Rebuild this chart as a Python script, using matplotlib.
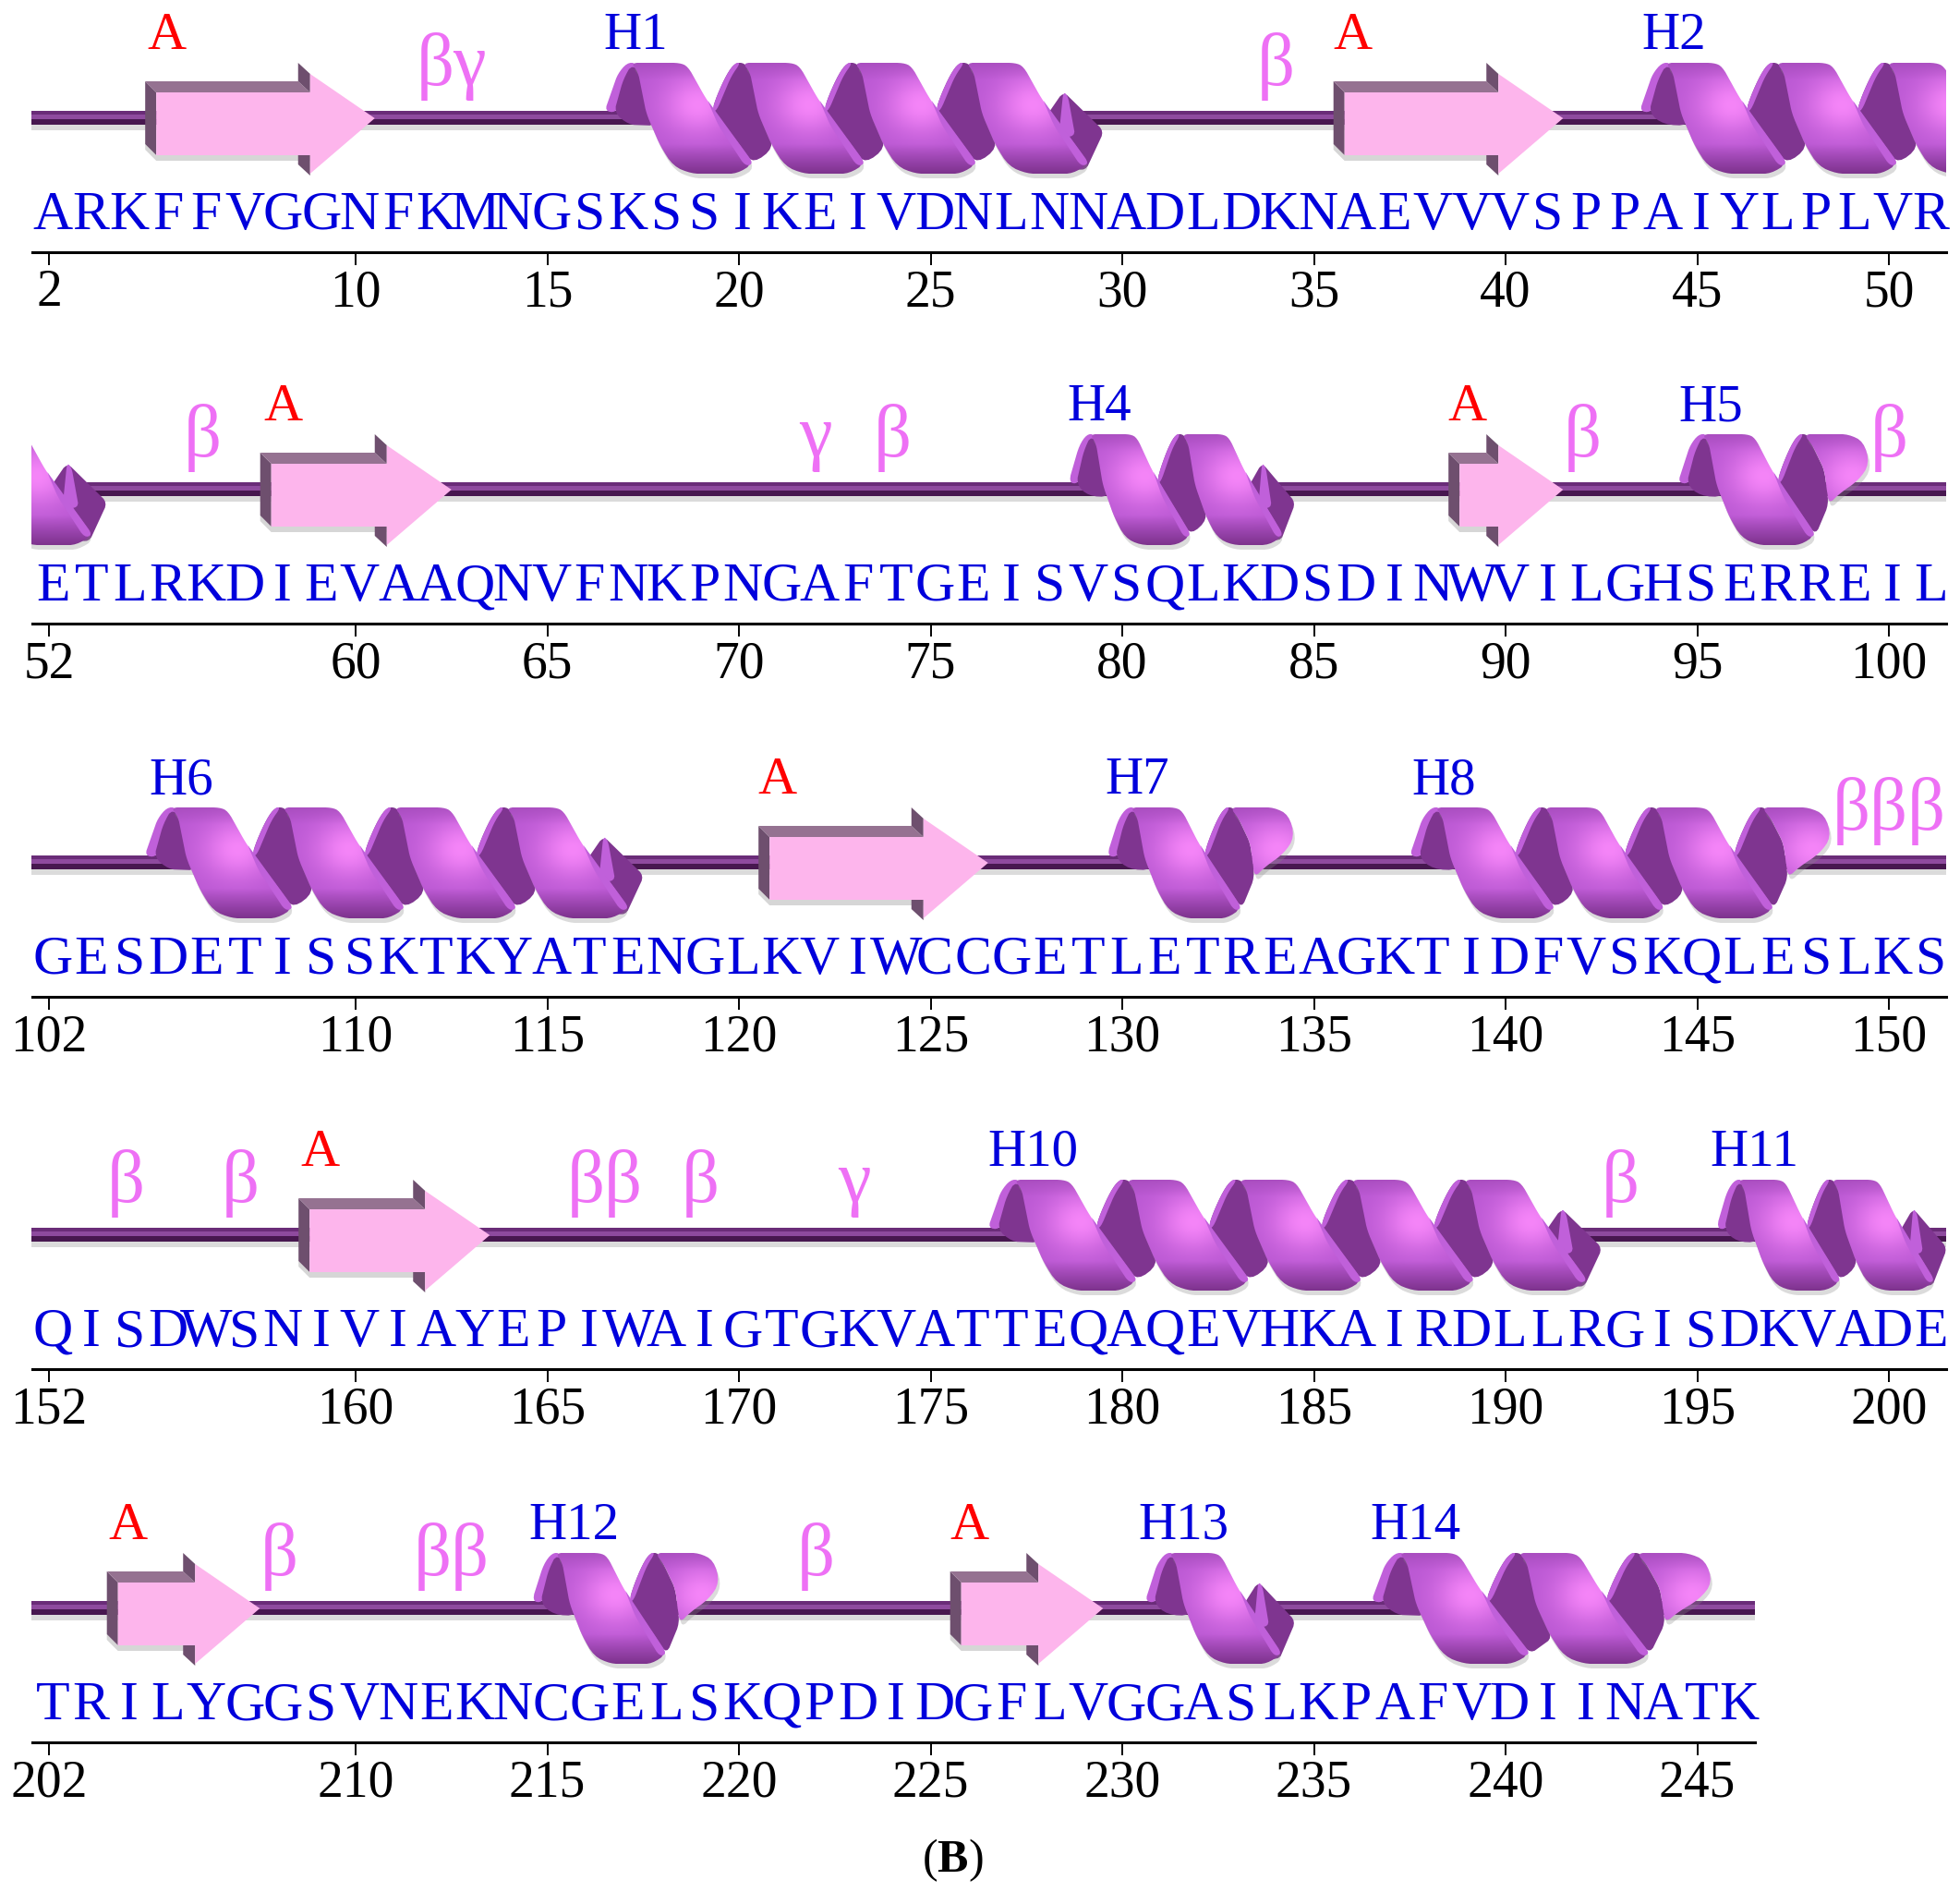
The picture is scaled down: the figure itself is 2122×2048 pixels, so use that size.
import numpy as np
import matplotlib
matplotlib.use("Agg")
import matplotlib.pyplot as plt
from matplotlib.patches import Polygon, Rectangle
from matplotlib.colors import to_rgb

plt.rcParams['font.family'] = ['Liberation Serif', 'DejaVu Serif']
plt.rcParams['mathtext.fontset'] = 'custom'
plt.rcParams['mathtext.rm'] = 'Liberation Serif'
plt.rcParams['mathtext.bf'] = 'Liberation Serif:bold'

# sequence, one string per row
row_starts = [2, 52, 102, 152, 202]
row_seqs = [
    "ARKFFVGGNFKMNGSKSSIKEIVDNLNNADLDKNAEVVVSPPAIYLPLVR",
    "ETLRKDIEVAAQNVFNKPNGAFTGEISVSQLKDSDINWVILGHSERREIL",
    "GESDETISSKTKYATENGLKVIWCCGETLETREAGKTIDFVSKQLESLKS",
    "QISDWSNIVIAYEPIWAIGTGKVATTEQAQEVHKAIRDLLRGISDKVADE",
    "TRILYGGSVNEKNCGELSKQPDIDGFLVGGASLKPAFVDIINATK",
]
row_ticks = [
    [2, 10, 15, 20, 25, 30, 35, 40, 45, 50],
    [52, 60, 65, 70, 75, 80, 85, 90, 95, 100],
    [102, 110, 115, 120, 125, 130, 135, 140, 145, 150],
    [152, 160, 165, 170, 175, 180, 185, 190, 195, 200],
    [202, 210, 215, 220, 225, 230, 235, 240, 245],
]
row_ends = [51.5, 101.5, 151.5, 201.5, 246.5]

# strands: first residue of the face, residue of the tip
arrow_start = [4.8, 35.8, 57.8, 88.8, 120.8, 158.8, 203.8, 225.8]
arrow_tip = [10.5, 41.5, 62.5, 91.5, 126.5, 163.5, 207.5, 229.5]

# helices
helix_start = [16.5, 43.5, 78.6, 94.5, 104.5, 129.6, 137.5, 176.5, 195.5, 214.6, 230.6, 236.5]
helix_end = [29.5, 53.5, 84.5, 99.5, 117.5, 134.5, 148.5, 192.5, 201.5, 219.5, 234.5, 245.4]
helix_turns = [4, 3, 2, 1, 4, 1, 3, 5, 2, 1, 1, 2]
helix_tail = ['fin', 'fin', 'fin', 'cap', 'fin', 'cap', 'cap', 'fin', 'fin', 'cap', 'fin', 'cap']

# labels above the rail
red_pos = [5.06, 36.0, 58.1, 89.0, 121.0, 159.06, 204.07, 226.0]
helix_names = ["H1", "H2", "H4", "H5", "H6", "H7", "H8", "H10", "H11", "H12", "H13", "H14"]
helix_name_pos = [17.3, 44.4, 79.4, 95.35, 105.45, 130.4, 138.4, 177.66, 196.5, 215.7, 231.6, 237.66]
turn_names = ["βγ", "β", "β", "γ", "β", "β", "β", "βββ", "β", "β", "ββ", "β", "γ", "β", "β", "ββ", "β"]
turn_pos = [12.5, 34.0, 56.0, 72.0, 74.0, 92.0, 100.0, 150.0, 154.0, 157.0, 166.5, 169.0, 173.0,
            193.0, 208.0, 212.5, 222.0]

W, H = 2122, 2048
PX = 41.5  # pixels per residue
X0 = 53
rail_y = [128, 530, 934, 1337, 1741]
T = 121.0

RIB = np.array(to_rgb('#BA58D3'))
RIB_HI = np.array(to_rgb('#F585F8'))
RIB_DK = np.array(to_rgb('#7E338E'))
INNER = '#7F3590'
EDGE = '#C060DA'


def smooth(pts, n=2, seg=14.0):
    # split long edges first so the corner cutting only rounds the corners a little
    pts = np.asarray(pts, float)
    dense = []
    for a, b in zip(pts, np.roll(pts, -1, axis=0)):
        m = max(int(np.hypot(*(b - a)) / seg), 1)
        dense += [a + (b - a) * j / m for j in range(m)]
    pts = np.array(dense)
    for _ in range(n):
        nxt = np.roll(pts, -1, axis=0)
        pts = np.column_stack([0.75 * pts + 0.25 * nxt, 0.25 * pts + 0.75 * nxt]).reshape(-1, 2)
    return pts


def ribbon_outline(o, s):
    p = [(0, -60), (8, -50), (17, -5), (32, 30), (46, 52), (66, 60), (115, 60), (133, 49),
         (119, 30), (100, 5), (81, -22), (62, -56), (53, -60)]
    return [(o + u * s, v) for u, v in p]


def cap_outline(o, s):
    p = [(-2, -60), (50, -60), (68, -52), (75, -28), (62, -10), (40, 4), (27, 16), (22, -21), (8, -48)]
    return [(o + u * s, v) for u, v in p]


def draw_rail(ax, left, right):
    ax.fill_between([left, right], 7, 13, color='#999999', alpha=0.35, lw=0, zorder=1)
    ax.fill_between([left, right], -8, -4, color='#6A2C78', lw=0, zorder=1.1)
    ax.fill_between([left, right], -4, 1, color='#8E4A9E', lw=0, zorder=1.1)
    ax.fill_between([left, right], 1, 7, color='#47174F', lw=0, zorder=1.1)


def draw_arrow(ax, start, tip):
    bev = 12 / PX
    base = tip - 70 / PX
    back = base - 13 / PX
    ax.add_patch(Polygon([(start - bev, 28), (start, 40), (base, 40), (base, 46), (start, 46), (start - bev, 34)],
                         fc='#999999', ec='none', alpha=0.4, zorder=2))
    ax.add_patch(Polygon([(start - bev, -40), (start, -28), (start, 40), (start - bev, 28)],
                         fc='#6E4F6E', ec='none', zorder=2.1))
    ax.add_patch(Polygon([(start - bev, -40), (back, -40), (base, -28), (start, -28)],
                         fc='#957291', ec='none', zorder=2.1))
    ax.add_patch(Polygon([(back, -60), (base, -48), (base, -28), (back, -40)],
                         fc='#6E4F6E', ec='none', zorder=2.1))
    ax.add_patch(Polygon([(back, 40), (base, 40), (base, 62), (back, 50)],
                         fc='#6E4F6E', ec='none', zorder=2.1))
    ax.add_patch(Polygon([(start, -28), (base, -28), (base, -48), (tip, 0), (base, 60), (base, 40), (start, 40)],
                         fc='#FDB5EC', ec='none', zorder=2.2))


def draw_ribbon(ax, pts, to_r, hx, span, z):
    arr = np.array(pts)
    umin, umax = arr[:, 0].min(), arr[:, 0].max()
    lo = max(to_r(umin), span[0])
    hi = min(to_r(umax), span[1])
    if hi <= lo:
        return
    xy = [(to_r(u), v) for u, v in smooth(pts)]
    sh = Polygon([(x + 2 / PX, y + 5) for x, y in xy], fc='#888888', ec='none', alpha=0.3, zorder=z - 0.05)
    ax.add_patch(sh)
    sh.set_clip_path(Rectangle((span[0], -200), span[1] - span[0], 400, transform=ax.transData))
    clip = Polygon(xy, fc='none', ec='none', zorder=z, transform=ax.transData)
    ax.add_patch(clip)
    xs = np.linspace(lo, hi, 60)
    vs = np.linspace(-62, 62, 90)
    R, V = np.meshgrid(xs, vs)
    U = (R - to_r(0)) * PX
    w = np.exp(-(((U - hx) / 38) ** 2 + ((V + 15) / 32) ** 2))[..., None]
    d = np.clip((V - 28) / 32, 0, 1)[..., None]
    top = np.clip((-V - 42) / 20, 0, 1)[..., None] * 0.3
    img = RIB + (RIB_HI - RIB) * w
    img = img + (RIB_DK - img) * d
    img = img + (RIB_DK - img) * top
    im = ax.imshow(img, extent=(lo, hi, 62, -62), origin='upper', aspect='auto',
                   interpolation='bilinear', zorder=z)
    im.set_clip_path(clip)


def draw_helix(ax, start, end, turns, tail, span):
    if end < span[0] or start > span[1]:
        return
    # the whole helix is built in pixels from its start, then squeezed to fit
    if tail == 'fin':
        s = (end - start) * PX / (28 + 133 + (turns - 1) * T + 15)
    else:
        s = (end - start) * PX / (28 + turns * T + 75)

    def to_r(u):
        return start + u / PX

    clip = Rectangle((span[0], -200), span[1] - span[0], 400, transform=ax.transData)

    def solid(pts, color, z):
        p = Polygon([(to_r(u), v) for u, v in smooth(pts)], fc=color, ec='none', zorder=z)
        ax.add_patch(p)
        p.set_clip_path(clip)

    t = T * s
    o0 = 28 * s
    # first flap, sits on top of the rail
    solid([(o0 - 28 * s, -8), (o0 - 14 * s, -48), (o0 - 4 * s, -60), (o0 + 6 * s, -60), (o0 - 16 * s, -6)], EDGE, 3.0)
    solid([(o0 - 18 * s, -6), (o0 - 8 * s, -42), (o0 + 2 * s, -60), (o0 + 20 * s, -40), (o0 + 26 * s, 8), (o0 - 2 * s, 7)],
          INNER, 3.01)

    for i in range(turns):
        o = o0 + i * t
        last = i == turns - 1
        if not last or tail == 'cap':
            nx = o + t
            if last:
                right = [(nx + 27 * s, 16), (nx + 22 * s, -21), (nx + 8 * s, -48), (nx + 2 * s, -60)]
            else:
                right = [(nx + 34 * s, 32), (nx + 18 * s, -5), (nx + 9 * s, -50), (nx + 2 * s, -60)]
            solid([(nx - 8 * s, -60), (nx - 17 * s, -48), (nx - 28 * s, -24), (nx - 33 * s, -8),
                   (o + 100 * s, 10), (o + 133 * s, 49)] + right,
                  INNER, 3.0)
            solid([(nx - 8 * s, -60), (nx - 17 * s, -48), (nx - 28 * s, -24), (nx - 33 * s, -8),
                   (nx - 28 * s, -8), (nx - 12 * s, -46), (nx - 2 * s, -60)],
                  EDGE, 3.05)
        else:
            solid([(o + 85 * s, 0), (o + 105 * s, -29), (o + 149 * s, 14), (o + 129 * s, 57), (o + 100 * s, 50)],
                  INNER, 3.0)
            solid([(o + 105 * s, -29), (o + 110 * s, -24), (o + 118 * s, 20), (o + 100 * s, 20)], EDGE, 3.05)

    for i in range(turns):
        o = o0 + i * t
        draw_ribbon(ax, ribbon_outline(o, s), to_r, o + 72 * s, span, 3.2 + i * 0.01)
        solid([(o + 83 * s, -20), (o + 85 * s, -17), (o + 133 * s, 49), (o + 124 * s, 52), (o + 95 * s, 8)],
              EDGE, 3.3 + i * 0.01)
    if tail == 'cap':
        o = o0 + turns * t
        draw_ribbon(ax, cap_outline(o, s), to_r, o + 55 * s, span, 3.2 + turns * 0.01)


fig = plt.figure(figsize=(W / 100, H / 100), dpi=100, facecolor='white')

for k, r0 in enumerate(row_starts):
    ax = fig.add_axes([0, 1 - (rail_y[k] + 275) / H, 1, 403 / H])
    ax.patch.set_visible(False)
    xlim = (r0 - X0 / PX, r0 + (W - X0) / PX)
    span = (r0 - 19 / PX, row_ends[k])

    draw_rail(ax, span[0], span[1])
    for a, b in zip(arrow_start, arrow_tip):
        if span[0] < a < span[1]:
            draw_arrow(ax, a, b)
    for a, b, n, tail in zip(helix_start, helix_end, helix_turns, helix_tail):
        draw_helix(ax, a, b, n, tail, span)

    for i, ch in enumerate(row_seqs[k]):
        ax.text(r0 + i + 0.1, 120, ch, color='#0000DC', fontsize=43, ha='center', va='baseline', zorder=5)

    for pos in red_pos:
        if span[0] < pos < span[1]:
            ax.text(pos, -75, "A", color='#FF0000', fontsize=42, ha='center', va='baseline', zorder=5)
    for name, pos in zip(helix_names, helix_name_pos):
        if span[0] < pos < span[1]:
            ax.text(pos, -75, name, color='#0000DC', fontsize=41, ha='center', va='baseline', zorder=5)
    for name, pos in zip(turn_names, turn_pos):
        if span[0] < pos < span[1] + 0.6:
            ax.text(pos, -36, name, color='#EE70F5', fontsize=58, ha='center', va='baseline', zorder=5)

    ax.set_xlim(xlim)
    ax.set_ylim(275, -128)
    for side in ['top', 'left', 'right']:
        ax.spines[side].set_visible(False)
    ax.spines['bottom'].set_position(('data', 145))
    ax.spines['bottom'].set_bounds(r0 - 18 / PX, row_ends[k] if k == 4 else r0 + 49.5)
    ax.spines['bottom'].set_linewidth(2.2)
    ax.yaxis.set_visible(False)
    ax.set_xticks(row_ticks[k])
    ax.tick_params(axis='x', length=10, width=1.4, pad=3, labelsize=40, labelcolor='black')

fig.text(1031 / W, 1 - 2026 / H, r"($\mathbf{B}$)", fontsize=36, ha='center', va='baseline', color='black')

fig.savefig("out.png", dpi=100, facecolor='white')
